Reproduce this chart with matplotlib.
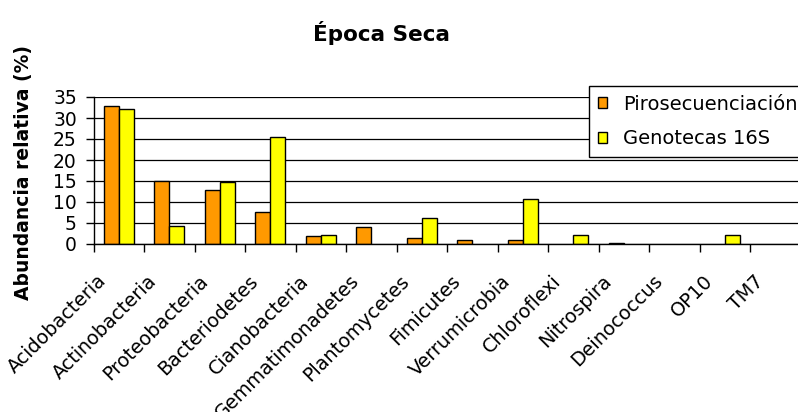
import matplotlib

matplotlib.use("Agg")
import matplotlib.pyplot as plt
import matplotlib.transforms as mtransforms
import numpy as np

phyla = [
    "Acidobacteria", "Actinobacteria", "Proteobacteria", "Bacteriodetes",
    "Cianobacteria", "Gemmatimonadetes", "Plantomycetes", "Fimicutes",
    "Verrumicrobia", "Chloroflexi", "Nitrospira", "Deinococcus", "OP10", "TM7",
]
# relative abundance (%), None where the phylum was not detected
piro = [32.8, 15.1, 12.9, 7.6, 1.8, 4.0, 1.35, 1.0, 1.0, None, 0.3, None, None, None]
geno = [32.1, 4.4, 14.7, 25.4, 2.1, None, 6.2, None, 10.6, 2.2, None, None, 2.2, None]
series_names = ["Pirosecuenciación", "Genotecas 16S"]
y_ticks = [0, 5, 10, 15, 20, 25, 30, 35]

W, H, DPI = 798, 412, 100
fig = plt.figure(figsize=(W / DPI, H / DPI), dpi=DPI)
plt.rcParams["font.family"] = ["DejaVu Sans"]

# plot area in pixel coordinates (right edge runs past the canvas)
left_px, right_px, top_px, bottom_px = 93.5, 800.5, 97, 244
ax = fig.add_axes([
    left_px / W, 1 - bottom_px / H,
    (right_px - left_px) / W, (bottom_px - top_px) / H,
])

x = np.arange(len(phyla))
bw = 0.3


def draw_series(values, offset, color, label):
    xs = [xi + offset for xi, v in zip(x, values) if v is not None]
    hs = [v for v in values if v is not None]
    ax.bar(xs, hs, width=bw, color=color, edgecolor="black",
           linewidth=1.0, label=label, zorder=3)


draw_series(piro, -bw / 2, "#FF9900", series_names[0])
draw_series(geno, bw / 2, "#FFFF00", series_names[1])

ax.set_xlim(-0.5, len(phyla) - 0.5)
ax.set_ylim(0, 35)
ax.set_yticks(y_ticks)
ax.yaxis.grid(True, color="black", linewidth=0.9, zorder=0)
ax.set_axisbelow(True)

for side in ("top", "right"):
    ax.spines[side].set_visible(False)
for side in ("left", "bottom"):
    ax.spines[side].set_color("black")
    ax.spines[side].set_linewidth(1.0)
    ax.spines[side].set_zorder(4)

ax.tick_params(axis="y", direction="out", length=6, width=1, pad=6,
               labelsize=13.5, colors="black")

# tick marks between categories, labels at category centers
ax.set_xticks(np.arange(-0.5, len(phyla)), minor=True)
ax.tick_params(axis="x", which="minor", direction="out", length=6, width=1)
ax.set_xticks(x)
ax.set_xticklabels(phyla, rotation=45, ha="right", va="center",
                   rotation_mode="anchor", fontsize=13.8)
ax.tick_params(axis="x", which="major", length=0, pad=0)
shift = mtransforms.ScaledTranslation(-15 / DPI, -34 / DPI, fig.dpi_scale_trans)
for lab in ax.get_xticklabels():
    lab.set_transform(lab.get_transform() + shift)

fig.text(381.5 / W, 1 - 33 / H, "Época Seca", ha="center", va="center",
         fontsize=15.5, fontweight="bold")
fig.text(24 / W, 1 - 172 / H, "Abundancia relativa (%)", rotation=90,
         ha="center", va="center", fontsize=13.5, fontweight="bold")

leg = ax.legend(
    loc="upper left", bbox_to_anchor=(589 / W, 1 - 86 / H),
    bbox_transform=fig.transFigure, borderaxespad=0, fontsize=14,
    handlelength=0.5, handleheight=0.5, handletextpad=0.8,
    labelspacing=0.8, borderpad=0.45, fancybox=False, framealpha=1,
    edgecolor="black",
)
leg.get_frame().set_linewidth(1.0)

fig.savefig("out.png", dpi=DPI)
